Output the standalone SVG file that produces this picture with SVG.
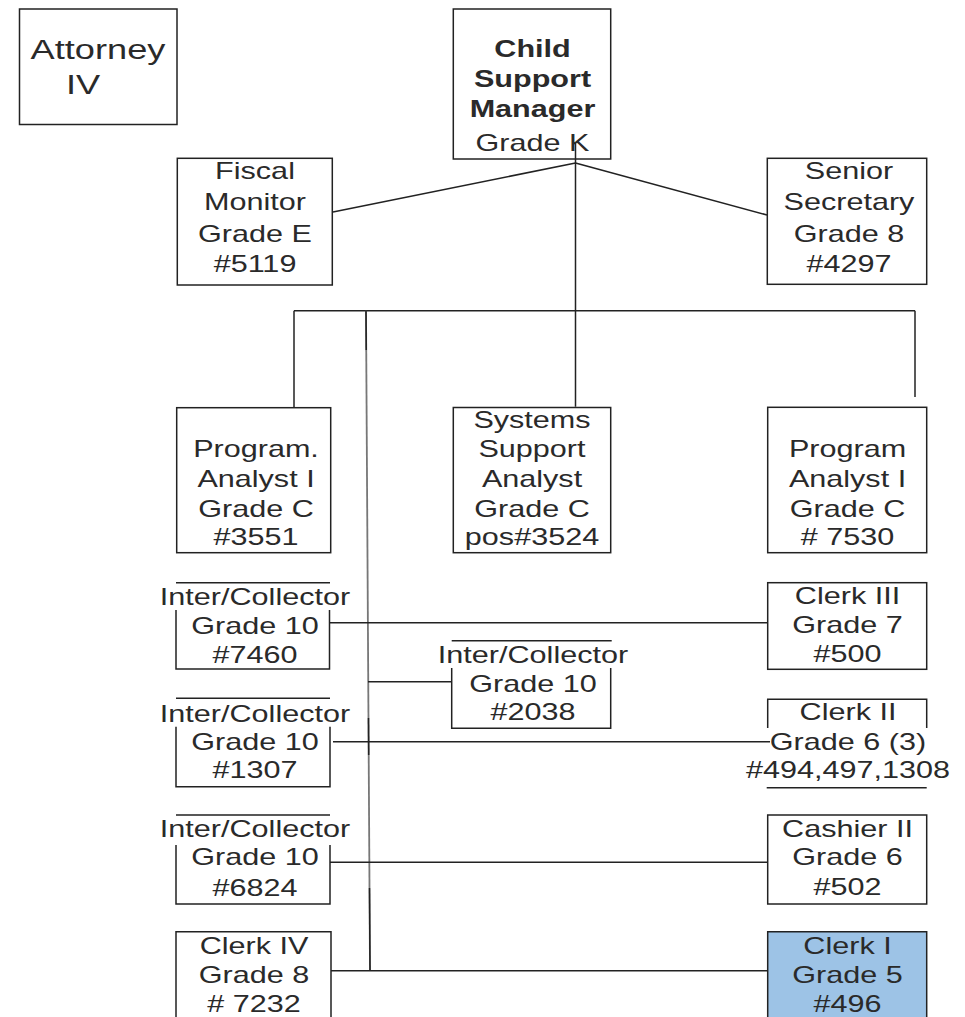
<svg xmlns="http://www.w3.org/2000/svg" width="965" height="1017" viewBox="0 0 965 1017">
<style>
.bx{fill:#fff;stroke:#222;stroke-width:1.5}
.ln{fill:none;stroke:#222;stroke-width:1.5}
.gl{fill:none;stroke:#777;stroke-width:1.8}
text{font-family:"Liberation Sans",Arial,sans-serif;font-size:23px;fill:#2a2a2a;text-anchor:middle}
.b{font-weight:bold}
.big{font-size:28.5px}
</style>
<rect width="965" height="1017" fill="#fff"/>
<g id="connectors">
  <path class="ln" d="M575.5 143 V406.7"/>
  <path class="ln" d="M575.5 163 L333 212"/>
  <path class="ln" d="M575.5 163 L767 215"/>
  <path class="ln" d="M294 310.7 H915"/>
  <path class="ln" d="M294 310.7 V407.7"/>
  <path class="ln" d="M915 310.7 V397"/>
  <path class="gl" d="M366 310.7 L370 970.7"/>
  <path class="ln" d="M366 310.7 L366.24 350"/>
  <path class="ln" d="M368.5 718 L368.7 755"/>
  <path class="ln" d="M369.5 888 L370 970.7"/>
  <path class="ln" d="M368 681.7 H451.7"/>
  <path class="ln" d="M330 622.7 H767.7"/>
  <path class="ln" d="M333 741.7 H770"/>
  <path class="ln" d="M330 862.3 H767.7"/>
  <path class="ln" d="M331 970.7 H767.7"/>
</g>
<g id="attorney">
  <rect class="bx" x="19.5" y="9" width="157.5" height="115.5"/>
  <g transform="translate(98 0) scale(1.27 1)"><text class="big" y="59.5">Attorney</text></g>
  <g transform="translate(83 0) scale(1.27 1)"><text class="big" y="94">IV</text></g>
</g>
<g id="manager">
  <rect class="bx" x="453.3" y="9" width="157.4" height="150"/>
  <g transform="translate(532.5 0) scale(1.33 1)">
    <text class="b" y="56.7">Child</text>
    <text class="b" y="87">Support</text>
    <text class="b" y="116.7">Manager</text>
    <text y="150.7">Grade K</text>
  </g>
</g>
<path class="ln" d="M575.5 143 V159"/>
<g id="fiscal">
  <rect class="bx" x="177.3" y="158.3" width="155" height="126.7"/>
  <g transform="translate(255 0) scale(1.33 1)">
    <text y="179.3">Fiscal</text>
    <text y="210">Monitor</text>
    <text y="241.7">Grade E</text>
    <text y="271.7">#5119</text>
  </g>
</g>
<g id="secretary">
  <rect class="bx" x="767.3" y="158.3" width="159.4" height="126"/>
  <g transform="translate(849 0) scale(1.33 1)">
    <text y="179.3">Senior</text>
    <text y="210">Secretary</text>
    <text y="241.7">Grade 8</text>
    <text y="271.7">#4297</text>
  </g>
</g>
<g id="program-left">
  <rect class="bx" x="176.7" y="407.7" width="154" height="145"/>
  <g transform="translate(256 0) scale(1.33 1)">
    <text y="457">Program.</text>
    <text y="487">Analyst I</text>
    <text y="516.7">Grade C</text>
    <text y="545.5">#3551</text>
  </g>
</g>
<g id="systems">
  <rect class="bx" x="453.3" y="407.5" width="157.4" height="145.2"/>
  <g transform="translate(532 0) scale(1.33 1)">
    <text y="428.3">Systems</text>
    <text y="457">Support</text>
    <text y="487">Analyst</text>
    <text y="516.7">Grade C</text>
    <text y="545.5">pos#3524</text>
  </g>
</g>
<g id="program-right">
  <rect class="bx" x="767.7" y="407.3" width="159" height="145.4"/>
  <g transform="translate(847.5 0) scale(1.33 1)">
    <text y="457">Program</text>
    <text y="487">Analyst I</text>
    <text y="516.7">Grade C</text>
    <text y="545.5"># 7530</text>
  </g>
</g>
<g id="inter-7460">
  <path class="ln" d="M176 582.7 H330 M176 610 V669 H329.5 V610"/>
  <g transform="translate(255 0) scale(1.33 1)">
    <text y="605">Inter/Collector</text>
    <text y="634">Grade 10</text>
    <text y="662.7">#7460</text>
  </g>
</g>
<g id="inter-2038">
  <path class="ln" d="M451.7 640.7 H611.7 M451.7 668 V728.3 H610.7 V668"/>
  <g transform="translate(533 0) scale(1.33 1)">
    <text y="662.7">Inter/Collector</text>
    <text y="691.7">Grade 10</text>
    <text y="720">#2038</text>
  </g>
</g>
<g id="inter-1307">
  <path class="ln" d="M176 698.3 H330 M176 726.7 V786.7 H330 V726.7"/>
  <g transform="translate(255 0) scale(1.33 1)">
    <text y="721.7">Inter/Collector</text>
    <text y="750">Grade 10</text>
    <text y="778.3">#1307</text>
  </g>
</g>
<g id="clerk-iii">
  <rect class="bx" x="767.7" y="582.7" width="159" height="86.6"/>
  <g transform="translate(847.5 0) scale(1.33 1)">
    <text y="604">Clerk III</text>
    <text y="632.7">Grade 7</text>
    <text y="661.7">#500</text>
  </g>
</g>
<g id="clerk-ii">
  <path class="ln" d="M767.7 728 V699.3 H926.7 V728 M766.7 787.7 H926.7"/>
  <g transform="translate(848 0) scale(1.33 1)">
    <text y="720">Clerk II</text>
    <text y="750">Grade 6 (3)</text>
    <text y="778.3">#494,497,1308</text>
  </g>
</g>
<g id="inter-6824">
  <path class="ln" d="M176 815 H330 M176 845 V904 H330 V845"/>
  <g transform="translate(255 0) scale(1.33 1)">
    <text y="836.7">Inter/Collector</text>
    <text y="865">Grade 10</text>
    <text y="895.7">#6824</text>
  </g>
</g>
<g id="cashier-ii">
  <rect class="bx" x="767.7" y="815" width="159" height="89"/>
  <g transform="translate(847.5 0) scale(1.33 1)">
    <text y="836.7">Cashier II</text>
    <text y="865">Grade 6</text>
    <text y="895">#502</text>
  </g>
</g>
<g id="clerk-iv">
  <path class="ln" d="M176 1020 V931.7 H331 V1020"/>
  <g transform="translate(254 0) scale(1.33 1)">
    <text y="954">Clerk IV</text>
    <text y="983.3">Grade 8</text>
    <text y="1011.7"># 7232</text>
  </g>
</g>
<g id="clerk-i">
  <path d="M767.7 1020 V931.7 H926.7 V1020 Z" fill="#9dc3e6" stroke="#222" stroke-width="1.5"/>
  <g transform="translate(847.5 0) scale(1.33 1)">
    <text y="954">Clerk I</text>
    <text y="983.3">Grade 5</text>
    <text y="1011.7">#496</text>
  </g>
</g>
</svg>
